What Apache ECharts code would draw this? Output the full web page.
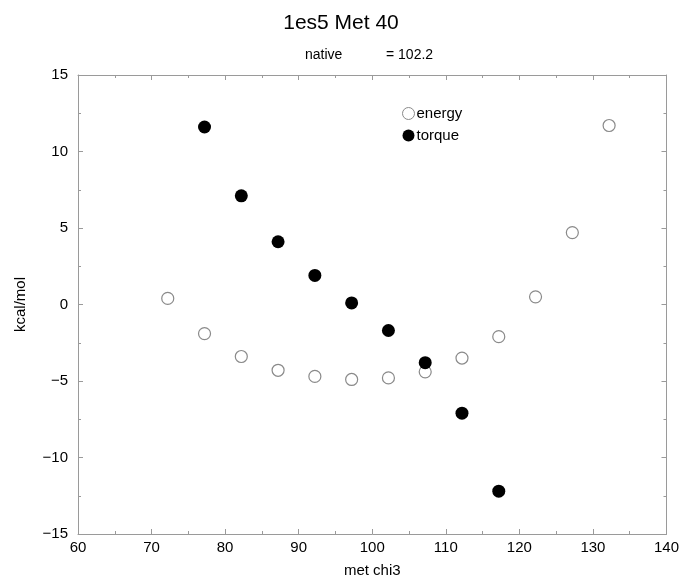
<!DOCTYPE html>
<html>
<head>
<meta charset="utf-8">
<script src="https://cdn.jsdelivr.net/npm/echarts@6/dist/echarts.min.js"></script>
<style>html,body{margin:0;padding:0;background:#fff}#c{width:682px;height:583px}</style>
</head>
<body>
<div id="c"></div>
<script>
const energyX = [72.2, 77.2, 82.2, 87.2, 92.2, 97.2, 102.2, 107.2, 112.2, 117.2, 122.2, 127.2, 132.2];
const energyY = [0.4, -1.9, -3.4, -4.3, -4.7, -4.9, -4.8, -4.4, -3.5, -2.1, 0.5, 4.7, 11.7];
const torqueX = [77.2, 82.2, 87.2, 92.2, 97.2, 102.2, 107.2, 112.2, 117.2];
const torqueY = [11.6, 7.1, 4.1, 1.9, 0.1, -1.7, -3.8, -7.1, -12.2];
const xTicks = [60, 70, 80, 90, 100, 110, 120, 130, 140];
const yTicks = [-15, -10, -5, 0, 5, 10, 15];

const FONT = 'Liberation Sans, Arial, sans-serif';
const axisColor = '#9a9a9a';
const chart = echarts.init(document.getElementById('c'));
const baseAxis = {
  axisLine: {show: true, onZero: false, lineStyle: {color: axisColor, width: 1}},
  axisTick: {show: true, inside: true, length: 5, lineStyle: {color: axisColor}},
  minorTick: {show: true, splitNumber: 2, length: 3, lineStyle: {color: axisColor}},
  splitLine: {show: false}
};
const fmt = v => String(v).replace('-', '\u2212');
const xAx = (pos, show) => Object.assign({}, baseAxis, {
  type: 'value', position: pos, min: xTicks[0], max: xTicks[xTicks.length - 1], interval: 10,
  axisLabel: {show: show, color: '#000', fontSize: 15, fontFamily: FONT, margin: 6, formatter: fmt},
  name: show ? 'met chi3' : '', nameLocation: 'middle', nameGap: 29,
  nameTextStyle: {color: '#000', fontSize: 15, fontFamily: FONT}
});
const yAx = (pos, show) => Object.assign({}, baseAxis, {
  type: 'value', position: pos, min: yTicks[0], max: yTicks[yTicks.length - 1], interval: 5,
  axisLabel: {show: show, color: '#000', fontSize: 15, fontFamily: FONT, margin: 10, formatter: fmt},
  name: show ? 'kcal/mol' : '', nameLocation: 'middle', nameGap: 50,
  nameTextStyle: {color: '#000', fontSize: 15, fontFamily: FONT}
});
chart.setOption({
  animation: false,
  backgroundColor: '#fff',
  title: {text: '1es5 Met 40', left: 'center', top: 8,
    textStyle: {fontSize: 21, fontWeight: 'normal', color: '#000', fontFamily: FONT}},
  graphic: [
    {type: 'text', left: 305, top: 48, style: {text: 'native', fontSize: 14, fill: '#000', fontFamily: FONT}},
    {type: 'text', left: 386, top: 48, style: {text: '= 102.2', fontSize: 14, fill: '#000', fontFamily: FONT}}
  ],
  legend: {
    orient: 'vertical', left: 397, top: 101, itemGap: 7, itemWidth: 12, itemHeight: 12,
    textStyle: {fontSize: 15, color: '#000', fontFamily: FONT, padding: [0, 0, 0, -3]},
    data: [
      {name: 'energy', icon: 'circle', itemStyle: {color: '#fff', borderColor: '#8a8a8a', borderWidth: 1}},
      {name: 'torque', icon: 'circle'}
    ]
  },
  grid: {left: 78, right: 15, top: 75, bottom: 47},
  xAxis: [xAx('bottom', true), xAx('top', false)],
  yAxis: [yAx('left', true), yAx('right', false)],
  series: [
    {name: 'energy', type: 'scatter', symbol: 'circle', symbolSize: 12,
      data: energyX.map((x, i) => [x, energyY[i]]),
      itemStyle: {color: '#fff', borderColor: '#8a8a8a', borderWidth: 1.2, opacity: 1}},
    {name: 'torque', type: 'scatter', symbol: 'circle', symbolSize: 13,
      data: torqueX.map((x, i) => [x, torqueY[i]]),
      itemStyle: {color: '#000', opacity: 1}}
  ]
});
</script>
</body>
</html>
